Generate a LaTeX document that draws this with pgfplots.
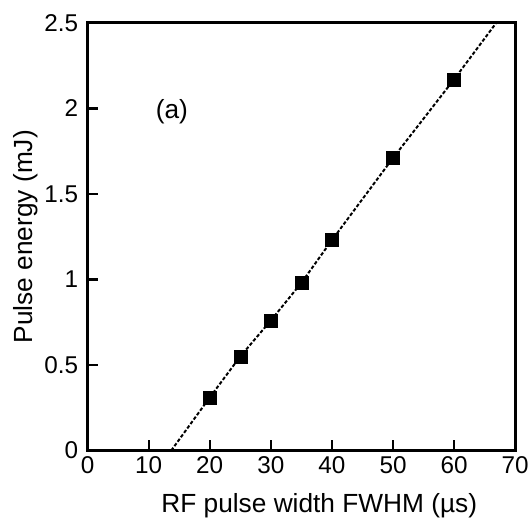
\documentclass[border=0pt]{standalone}
\usepackage{pgfplots}
\pgfplotsset{compat=1.18}
\usepackage{fontspec}
\setmainfont{Liberation Sans}
\begin{document}
\begin{tikzpicture}
\begin{axis}[
  scale only axis,
  width=430bp, height=430bp,
  xmin=0, xmax=70, ymin=0, ymax=2.5,
  xtick={0,10,20,30,40,50,60,70},
  ytick={0,0.5,1,1.5,2,2.5},
  xtick pos=left, ytick pos=left,
  tick align=inside,
  major tick length=11bp,
  axis line style={line width=2.8bp},
  every tick/.style={line width=2.2bp, black},
  /pgf/number format/assume math mode=true,
  xticklabel style={font=\fontsize{24.5}{28}\selectfont, yshift=-3bp},
  yticklabel style={font=\fontsize{24.5}{28}\selectfont, xshift=-6bp},
  xlabel={RF pulse width FWHM (\textmu s)},
  ylabel={Pulse energy (mJ)},
  label style={font=\fontsize{26.5}{30}\selectfont},
  xlabel style={at={(axis description cs:0.5,0)}, anchor=base, yshift=-62bp, xshift=18bp},
  ylabel style={at={(axis description cs:-0.128,0.5)}, anchor=base, rotate=0},
  clip=false,
]
\addplot[black, line width=2bp, dash pattern=on 3.5bp off 2bp] coordinates {
  (13.7,0) (20,0.31) (25,0.55) (30,0.76) (35,0.98) (40,1.23) (50,1.71) (60,2.17) (66.9,2.5)
};
\addplot[only marks, mark=square*, mark size=6.5bp, black] coordinates {
  (20,0.31) (25,0.55) (30,0.76) (35,0.98) (40,1.23) (50,1.71) (60,2.17)
};
\node[font=\fontsize{26.5}{30}\selectfont] at (axis cs:13.8,1.98) {(a)};
\path (rel axis cs:0,0) ++(-88bp,-72bp) (rel axis cs:1,1) ++(14bp,23bp);
\end{axis}
\end{tikzpicture}
\end{document}
